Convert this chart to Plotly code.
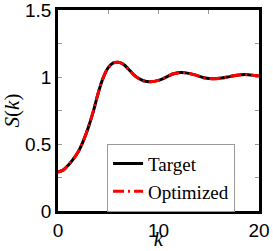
import plotly.graph_objects as go

k_vals = [0.0, 0.5, 1.0, 1.5, 2.0, 2.5, 3.0, 3.5, 4.0, 4.5, 5.0, 5.5, 6.0, 6.5, 7.0, 7.5,
          8.0, 8.5, 9.2, 10.0, 10.5, 11.0, 11.5, 12.3, 13.0, 13.8, 14.5, 15.5, 16.3,
          17.1, 17.8, 18.6, 19.3, 20.0]
s_target = [0.29, 0.305, 0.34, 0.385, 0.44, 0.52, 0.62, 0.74, 0.88, 0.995, 1.07, 1.105,
            1.11, 1.095, 1.06, 1.02, 0.99, 0.972, 0.965, 0.975, 0.99, 1.008, 1.024, 1.033,
            1.027, 1.012, 0.995, 0.987, 0.992, 1.003, 1.013, 1.018, 1.014, 1.008]
s_optimized = list(s_target)

x_tickvals = [0, 10, 20]
x_ticktext = ["0", "10", "20"]
y_tickvals = [0, 0.5, 1, 1.5]
y_ticktext = ["0", "0.5", "1", "1.5"]

SERIF = "Times New Roman, Liberation Serif, serif"

fig = go.Figure()
fig.add_trace(go.Scatter(x=k_vals, y=s_target, mode="lines", name="Target",
                         line=dict(color="black", width=3, shape="spline")))
fig.add_trace(go.Scatter(x=k_vals, y=s_optimized, mode="lines", name="Optimized",
                         line=dict(color="#ff0000", width=3, shape="spline",
                                   dash="11px,4px,2px,4px")))

tickfont = dict(family="Liberation Sans, Arial, sans-serif", size=19, color="black")
axis_common = dict(showline=True, linewidth=2.5, linecolor="black", mirror="allticks",
                   ticks="inside", ticklen=4, tickwidth=1, tickcolor="#999999",
                   showgrid=False, zeroline=False, tickfont=tickfont, automargin=False,
                   ticklabeloverflow="allow")

fig.update_xaxes(range=[0, 20], tickvals=x_tickvals, ticktext=x_ticktext,
                 minor=dict(dtick=5, ticks="inside", ticklen=4, tickcolor="#999999", showgrid=False),
                 title=dict(text="<i>k</i>", font=dict(family=SERIF, size=21, color="black"),
                            standoff=5),
                 **axis_common)
fig.update_yaxes(range=[0, 1.5], tickvals=y_tickvals, ticktext=y_ticktext,
                 minor=dict(dtick=0.25, ticks="inside", ticklen=4, tickcolor="#999999", showgrid=False),
                 title=dict(text="<i>S</i>(<i>k</i>)", font=dict(family=SERIF, size=21, color="black"),
                            standoff=4),
                 **axis_common)

fig.update_layout(
    width=273, height=251,
    margin=dict(l=58, r=14, t=10, b=40),
    plot_bgcolor="white", paper_bgcolor="white",
    showlegend=True,
    legend=dict(x=0.244, y=0.335, xanchor="left", yanchor="top",
                bgcolor="white", bordercolor="#999999", borderwidth=1,
                font=dict(family=SERIF, size=19, color="black"),
                tracegroupgap=0, itemwidth=30),
)

fig.write_html("out.html", config={"displayModeBar": False},
               post_script="document.body.style.margin='0';")
